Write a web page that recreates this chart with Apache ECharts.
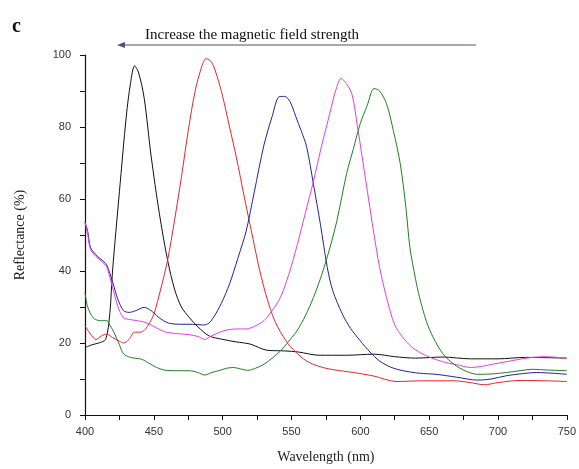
<!DOCTYPE html>
<html>
<head>
<meta charset="utf-8">
<script src="https://cdn.jsdelivr.net/npm/echarts@6/dist/echarts.min.js"></script>
<style>
  html, body { margin: 0; padding: 0; background: #fff; }
  #chart { width: 579px; height: 469px; }
</style>
</head>
<body>
<div id="chart"></div>
<script>
// wavelength (nm) / reflectance (%), one pair of arrays per curve
const blackWl = [400, 405, 410, 415, 418, 420, 425, 430, 433, 436, 439, 443, 448, 454, 460, 465, 470, 476, 482, 490, 500, 510, 520, 532, 545, 555, 570, 590, 610, 625, 640, 660, 680, 700, 720, 750];
const blackR  = [18.7, 19.5, 20, 21, 28, 40, 62, 83, 92, 97, 95, 88, 72, 56, 43, 35, 30, 27, 24.5, 22, 21, 20.3, 19.7, 18, 17.8, 17.5, 16.6, 16.6, 16.9, 16.2, 15.8, 16.1, 15.6, 15.6, 16, 15.8];

const redWl = [400, 404, 408, 412, 416, 420, 425, 428, 432, 436, 440, 443, 446, 450, 455, 460, 465, 470, 475, 480, 485, 488, 492, 496, 500, 505, 510, 516, 522, 527, 532, 538, 546, 553, 561, 570, 580, 595, 610, 626, 645, 668, 680, 690, 700, 716, 735, 750];
const redR  = [24.8, 22.5, 21, 22, 22.5, 21.5, 20.5, 20, 21, 23, 23, 23.5, 25, 28, 35, 43, 54, 66, 79, 90, 97, 99, 98, 94, 88.5, 80, 71.5, 60, 49, 40, 32.7, 26, 20.6, 17.5, 15, 13.5, 12.6, 11.8, 10.8, 9.3, 9.5, 9.5, 9, 8.4, 9, 9.6, 9.5, 9.3];

const blueWl = [400, 402, 404, 408, 411, 414, 416, 420, 424, 428, 432, 437, 443, 448, 452, 457, 462, 470, 478, 486, 490, 494, 499, 505, 511, 517, 523, 530, 536, 541, 545, 549, 553, 557, 561, 566, 571, 576, 580, 587, 593, 600, 607, 614, 622, 631, 643, 655, 670, 685, 695, 706, 718, 728, 740, 750];
const blueR  = [53.6, 51, 46.5, 44.5, 43.4, 42.5, 41.5, 37, 32, 29, 28.5, 29, 29.9, 29, 27.6, 26.2, 25.4, 25.2, 25.2, 25, 25.5, 27.5, 31, 36.4, 43.5, 51, 62, 75, 83, 88.4, 88.5, 87, 83, 79, 74.5, 64, 53, 41, 34.5, 28, 24, 20.6, 17.5, 15, 13.3, 12.3, 11.6, 11.3, 10.5, 9.7, 10, 10.9, 11.5, 11.8, 11.6, 11.3];

const magentaWl = [400, 402, 404, 408, 411, 414, 416, 420, 424, 428, 433, 438, 443, 447, 453, 459, 467, 476, 482, 487, 492, 498, 504, 510, 517, 524, 530, 536, 542, 548, 554, 560, 566, 572, 578, 582, 586, 590, 594, 598, 602, 606, 610, 614, 619, 625, 631, 637, 643, 652, 662, 672, 680, 688, 696, 706, 716, 725, 735, 750];
const magentaR  = [53.6, 50, 46, 44, 43, 42, 41, 35.5, 30, 27, 26.5, 26.2, 25.8, 25.2, 24, 23, 22.6, 22.3, 21.8, 21, 22, 23, 23.7, 23.9, 23.9, 24.8, 26.2, 29, 32.7, 39, 47, 56, 65, 75, 84, 90, 93.5, 92, 89, 80, 70, 60, 50, 41, 32.7, 25, 21.5, 19, 17.4, 15.8, 14.6, 13.8, 13.2, 13.5, 14.1, 14.8, 15.5, 16, 16.2, 15.7];

const greenWl = [400, 402, 406, 411, 416, 418, 421, 425, 428, 433, 441, 446, 452, 459, 468, 476, 482, 487, 492, 498, 503, 508, 513, 518, 524, 530, 536, 542, 548, 554, 560, 566, 572, 578, 583, 590, 595, 600, 605, 610, 614, 619, 624, 629, 633, 636, 640, 643, 648, 653, 660, 668, 676, 685, 695, 706, 716, 725, 735, 750];
const greenR  = [34, 30, 27, 26.2, 26.2, 25, 23, 19.5, 17, 16, 15.5, 14.5, 13.2, 12.4, 12.3, 12.3, 11.8, 11.1, 11.8, 12.4, 13, 13.2, 12.8, 12.4, 13, 14.1, 15.8, 17.8, 20.5, 23.4, 27.5, 32.7, 39, 46.6, 54, 67, 74, 81, 86, 90.7, 90, 86.5, 79, 69.8, 58, 46.6, 38, 32.7, 26, 21.5, 17, 14.1, 12.3, 11.3, 11.4, 11.8, 12.3, 12.7, 12.5, 12.3];

const xTicks = [400, 450, 500, 550, 600, 650, 700, 750];
const yTicks = [0, 20, 40, 60, 80, 100];

const pairs = (xs, ys) => xs.map((x, i) => [x, ys[i]]);

const curve = (name, color, xs, ys) => ({
    name: name,
    type: 'line',
    data: pairs(xs, ys),
    showSymbol: false,
    smooth: 0.3,
    lineStyle: { color: color, width: 1 },
    itemStyle: { color: color },
    z: 2
});

const chart = echarts.init(document.getElementById('chart'));
const serif = '"Liberation Serif", "DejaVu Serif", serif';
const sans = '"Liberation Sans", Arial, sans-serif';

chart.setOption({
    animation: false,
    backgroundColor: '#fff',
    grid: { left: 85, right: 12, top: 55, bottom: 54 },
    xAxis: {
        type: 'value',
        min: xTicks[0], max: xTicks[xTicks.length - 1], interval: 50,
        name: 'Wavelength (nm)',
        nameLocation: 'middle',
        nameGap: 35,
        nameTextStyle: { fontFamily: serif, fontSize: 14, color: '#222' },
        axisLine: { lineStyle: { color: '#111', width: 1.2 } },
        axisTick: { show: true, length: 5, lineStyle: { color: '#111' } },
        minorTick: { show: true, splitNumber: 2, length: 5, lineStyle: { color: '#111' } },
        axisLabel: { fontFamily: sans, fontSize: 11, color: '#333', margin: 11 },
        splitLine: { show: false }
    },
    yAxis: {
        type: 'value',
        min: yTicks[0], max: yTicks[yTicks.length - 1], interval: 20,
        name: 'Reflectance (%)',
        nameLocation: 'middle',
        nameGap: 58,
        nameTextStyle: { fontFamily: serif, fontSize: 14, color: '#222' },
        axisLine: { show: true, lineStyle: { color: '#111', width: 1.2 } },
        axisTick: { show: true, length: 5, lineStyle: { color: '#111' } },
        minorTick: { show: true, splitNumber: 2, length: 5, lineStyle: { color: '#111' } },
        axisLabel: { fontFamily: sans, fontSize: 11, color: '#333', margin: 14 },
        splitLine: { show: false }
    },
    graphic: [
        {
            type: 'text', left: 12, top: 17,
            style: { text: 'c', font: 'bold 20px ' + serif, fill: '#111' }
        },
        {
            type: 'text', left: 145, top: 28,
            style: { text: 'Increase the magnetic field strength', font: '15px ' + serif, fill: '#111' }
        },
        {
            type: 'line',
            shape: { x1: 476, y1: 45, x2: 122, y2: 45 },
            style: { stroke: '#4a5570', lineWidth: 1.2 }
        },
        {
            type: 'polygon',
            shape: { points: [[117, 45], [125, 42], [125, 48]] },
            style: { fill: '#4a5570' }
        }
    ],
    series: [
        curve('black', '#111111', blackWl, blackR),
        curve('red', '#e3262b', redWl, redR),
        curve('blue', '#22229a', blueWl, blueR),
        curve('magenta', '#e23ee2', magentaWl, magentaR),
        curve('green', '#1f7f24', greenWl, greenR)
    ]
});

window.addEventListener('resize', () => chart.resize());
</script>
</body>
</html>
